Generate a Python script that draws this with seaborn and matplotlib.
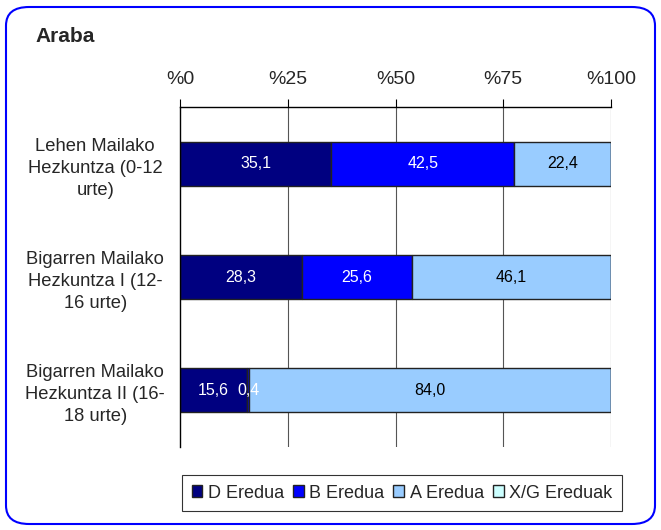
import matplotlib
matplotlib.use("Agg")
import matplotlib.pyplot as plt
import seaborn as sns
import pandas as pd
import numpy as np
from matplotlib.patches import FancyBboxPatch, Patch

sns.set_style("white")
plt.rcParams['font.family'] = ['Liberation Sans', 'DejaVu Sans']

categories = ["Lehen Mailako\nHezkuntza (0-12\nurte)",
              "Bigarren Mailako\nHezkuntza I (12-\n16 urte)",
              "Bigarren Mailako\nHezkuntza II (16-\n18 urte)"]
series = ["D Eredua", "B Eredua", "A Eredua", "X/G Ereduak"]
d_vals = [35.1, 28.3, 15.6]
b_vals = [42.5, 25.6, 0.4]
a_vals = [22.4, 46.1, 84.0]
xg_vals = [0.0, 0.0, 0.0]
tick_labels = ["%0", "%25", "%50", "%75", "%100"]

colors = ["#000080", "#0000FF", "#99CCFF", "#CCFFFF"]
text_colors = ["white", "white", "black", "black"]

fig = plt.figure(figsize=(6.61, 5.30), dpi=100)
ax = fig.add_axes([180/661, 1-447/530, (611-180)/661, (447-107)/530])

vals = [d_vals, b_vals, a_vals, xg_vals]
left = np.zeros(len(categories))
for s, v, c, tc in zip(series, vals, colors, text_colors):
    df = pd.DataFrame({"cat": categories, "val": v})
    sns.barplot(data=df, y="cat", x="val", left=left, color=c, orient="h",
                saturation=1, width=0.39, edgecolor="#222222", linewidth=1.0,
                ax=ax, label=s)
    for i, val in enumerate(v):
        if val > 0:
            ax.text(left[i] + val/2, i, f"{val:.1f}".replace(".", ","),
                    ha="center", va="center", color=tc, fontsize=11.5)
    left = left + np.array(v)

ax.set_xlim(0, 100)
ax.set_ylim(2.5, -0.5)
ax.set_xticks([0, 25, 50, 75, 100])
ax.set_xticklabels(tick_labels, fontsize=14)
ax.xaxis.tick_top()
ax.tick_params(axis="x", direction="out", length=6, pad=8, top=True, bottom=False, color="black")
ax.set_xlabel("")
ax.set_ylabel("")
ax.set_yticks([0, 1, 2])
ax.set_yticklabels(categories, fontsize=13.2, ha="center", linespacing=1.38)
ax.tick_params(axis="y", length=0, pad=61)
ax.set_yticks([0.5, 1.5], minor=True)
ax.tick_params(axis="y", which="minor", length=5, direction="out", color="black")
for xv in [25, 50, 75, 100]:
    ax.axvline(xv, color="#555555", lw=0.8, zorder=0)
for sp in ["right", "bottom"]:
    ax.spines[sp].set_visible(False)
for sp in ["top", "left"]:
    ax.spines[sp].set_color("black")
    ax.spines[sp].set_linewidth(1.0)
if ax.get_legend():
    ax.get_legend().remove()

handles = [Patch(facecolor=c, edgecolor="#222222", label=s) for s, c in zip(series, colors)]
leg = fig.legend(handles=handles, loc="center", bbox_to_anchor=(402/661, 1-493/530),
                 ncol=4, frameon=True, fontsize=13, handlelength=0.6, handleheight=0.6,
                 handletextpad=0.3, columnspacing=0.5, borderpad=0.55, fancybox=False)
leg.get_frame().set_edgecolor("black")
leg.get_frame().set_linewidth(0.8)

fig.text(35/661, 1-37/530, "Araba", fontsize=15, fontweight="bold", ha="left", va="center")

border = FancyBboxPatch((6/661, 6/530), 649/661, 517/530,
                        boxstyle="round,pad=0,rounding_size=0.035",
                        transform=fig.transFigure, fill=False, edgecolor="#0000FF", lw=1.5)
fig.patches.append(border)

fig.savefig("out.png", dpi=100)
